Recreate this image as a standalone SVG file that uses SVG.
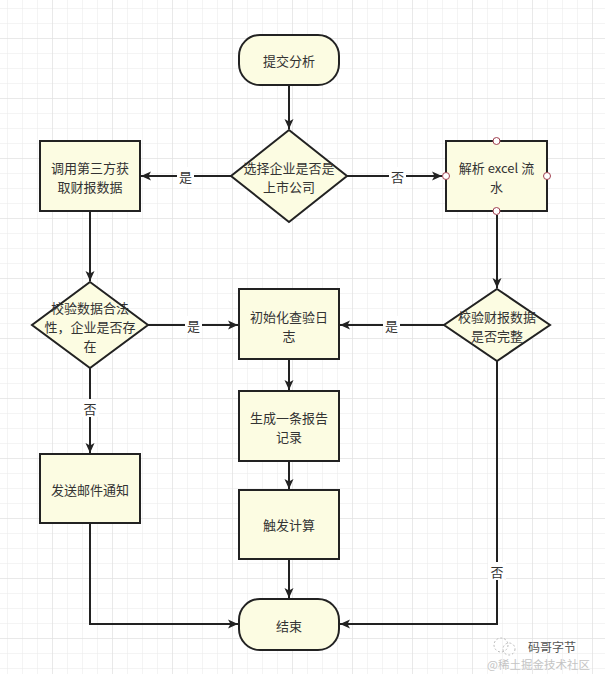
<svg xmlns="http://www.w3.org/2000/svg" width="605" height="674" viewBox="0 0 605 674">
  <defs>
    <pattern id="grid" x="7" y="8" width="15" height="15" patternUnits="userSpaceOnUse">
      <path d="M0 0H15M0 0V15" fill="none" stroke="#e9e9e9" stroke-width="1"/>
    </pattern>
    <pattern id="gridmaj" x="52" y="38" width="60" height="60" patternUnits="userSpaceOnUse">
      <path d="M0 0H60M0 0V60" fill="none" stroke="#dedede" stroke-width="1"/>
    </pattern>
    <marker id="arr" viewBox="0 0 10 10" refX="10" refY="5" markerWidth="10" markerHeight="10" markerUnits="userSpaceOnUse" orient="auto">
      <path d="M0 0.5L10 5L0 9.5L2.5 5Z" fill="#222"/>
    </marker>
    <style>
      .shape { fill: #fcfce2; stroke: #222; stroke-width: 2; }
      .t { font-family: "Noto Sans CJK SC", "Liberation Sans", sans-serif; font-size: 13px; fill: #333; text-anchor: middle; dominant-baseline: central; }
      .line { fill: none; stroke: #222; stroke-width: 2; }
      .lbl { fill: #ffffff; }
      .port { fill: #ffffff; stroke: #a04050; stroke-width: 1; }
    </style>
  </defs>
  <rect width="605" height="674" fill="#ffffff"/>
  <rect width="605" height="674" fill="url(#grid)"/>
  <rect width="605" height="674" fill="url(#gridmaj)"/>

  <g id="connectors">
    <path class="line" d="M289 85V129" marker-end="url(#arr)"/>
    <path class="line" d="M231 176H141" marker-end="url(#arr)"/>
    <rect class="lbl" x="177" y="167" width="17" height="18"/>
    <text class="t" x="185.5" y="176">是</text>
    <path class="line" d="M347 176H442" marker-end="url(#arr)"/>
    <rect class="lbl" x="389" y="167" width="17" height="18"/>
    <text class="t" x="397.5" y="176">否</text>
    <path class="line" d="M90 211V281" marker-end="url(#arr)"/>
    <path class="line" d="M497 215V288" marker-end="url(#arr)"/>
    <path class="line" d="M148 325H238" marker-end="url(#arr)"/>
    <rect class="lbl" x="185" y="316" width="17" height="18"/>
    <text class="t" x="193.5" y="325">是</text>
    <path class="line" d="M444 325H340" marker-end="url(#arr)"/>
    <rect class="lbl" x="383" y="316" width="17" height="18"/>
    <text class="t" x="391.5" y="325">是</text>
    <path class="line" d="M90 368V453" marker-end="url(#arr)"/>
    <rect class="lbl" x="81" y="399" width="18" height="18"/>
    <text class="t" x="90" y="408">否</text>
    <path class="line" d="M289 359V390" marker-end="url(#arr)"/>
    <path class="line" d="M289 461V489" marker-end="url(#arr)"/>
    <path class="line" d="M289 559V598" marker-end="url(#arr)"/>
    <path class="line" d="M90 523V624H238" marker-end="url(#arr)"/>
    <path class="line" d="M497 361V624H340" marker-end="url(#arr)"/>
    <rect class="lbl" x="488" y="562" width="18" height="18"/>
    <text class="t" x="497" y="571">否</text>
  </g>

  <g id="start">
    <rect class="shape" x="239" y="35" width="100" height="50" rx="21" ry="21"/>
    <text class="t" x="289" y="60">提交分析</text>
  </g>
  <g id="decision-listed">
    <path class="shape" d="M289 130L347 176L289 222L231 176Z"/>
    <text class="t" x="289" y="167">选择企业是否是</text>
    <text class="t" x="289" y="186">上市公司</text>
  </g>
  <g id="third-party">
    <rect class="shape" x="40" y="141" width="100" height="70"/>
    <text class="t" x="90" y="167">调用第三方获</text>
    <text class="t" x="90" y="186">取财报数据</text>
  </g>
  <g id="parse-excel">
    <rect class="shape" x="446" y="141" width="101" height="70"/>
    <text class="t" x="496.5" y="167">解析 excel 流</text>
    <text class="t" x="496.5" y="186">水</text>
    <circle class="port" cx="496.5" cy="141" r="3.5"/>
    <circle class="port" cx="446" cy="176" r="3.5"/>
    <circle class="port" cx="547" cy="176" r="3.5"/>
    <circle class="port" cx="496.5" cy="211" r="3.5"/>
  </g>
  <g id="decision-valid">
    <path class="shape" d="M90 282L148 325L90 368L32 325Z"/>
    <text class="t" x="90" y="307">校验数据合法</text>
    <text class="t" x="90" y="326">性，企业是否存</text>
    <text class="t" x="90" y="345">在</text>
  </g>
  <g id="init-log">
    <rect class="shape" x="239" y="289" width="100" height="70"/>
    <text class="t" x="289" y="316">初始化查验日</text>
    <text class="t" x="289" y="335">志</text>
  </g>
  <g id="decision-complete">
    <path class="shape" d="M497 289L550 325L497 361L444 325Z"/>
    <text class="t" x="497" y="316">校验财报数据</text>
    <text class="t" x="497" y="335">是否完整</text>
  </g>
  <g id="send-mail">
    <rect class="shape" x="40" y="454" width="100" height="69"/>
    <text class="t" x="90" y="489">发送邮件通知</text>
  </g>
  <g id="gen-report">
    <rect class="shape" x="239" y="391" width="100" height="70"/>
    <text class="t" x="289" y="417">生成一条报告</text>
    <text class="t" x="289" y="436">记录</text>
  </g>
  <g id="trigger-calc">
    <rect class="shape" x="239" y="490" width="100" height="69"/>
    <text class="t" x="289" y="524">触发计算</text>
  </g>
  <g id="end">
    <rect class="shape" x="239" y="599" width="100" height="51" rx="21" ry="21"/>
    <text class="t" x="289" y="625">结束</text>
  </g>

  <g id="watermark">
    <circle cx="501" cy="645" r="7" fill="none" stroke="#bbb" stroke-width="1" stroke-dasharray="2 2"/>
    <circle cx="509" cy="649" r="6" fill="none" stroke="#bbb" stroke-width="1" stroke-dasharray="2 2"/>
    <text x="528" y="646" font-family="Noto Sans CJK SC, sans-serif" font-size="12" fill="#555" dominant-baseline="central">码哥字节</text>
    <text x="487" y="664" font-family="Noto Sans CJK SC, sans-serif" font-size="11.5" fill="#c4c4c4" dominant-baseline="central">@稀土掘金技术社区</text>
  </g>
</svg>
